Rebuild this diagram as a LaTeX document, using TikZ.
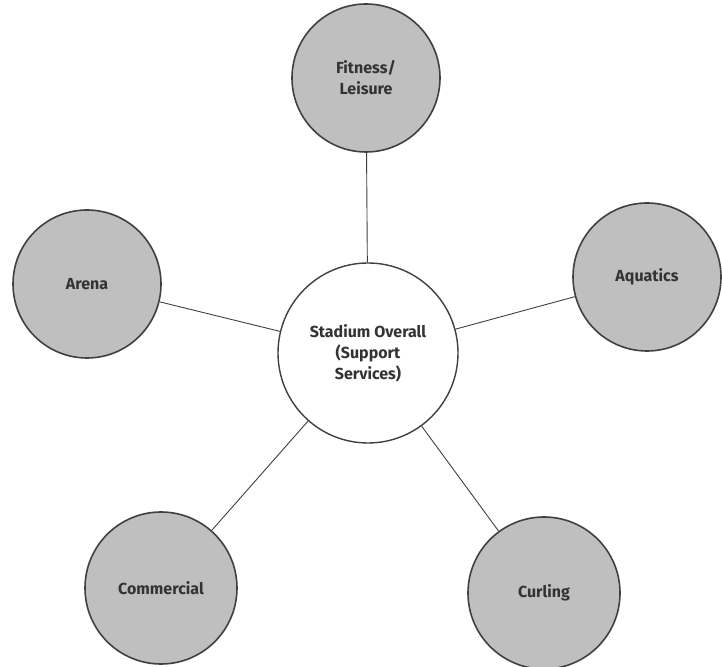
\documentclass[tikz,border=0pt]{standalone}
\usepackage{fontspec}
\setmainfont{Fira Sans}
\begin{document}
\begin{tikzpicture}[x=1pt,y=1pt,
  hub/.style={circle, draw=black!75, line width=1.4pt, fill=white, minimum size=180pt, inner sep=0pt, align=center, text=black!80, font=\fontsize{16}{21}\selectfont\bfseries},
  spoke/.style={circle, draw=black!75, line width=1.6pt, fill=black!25, minimum size=148pt, inner sep=0pt, align=center, text=black!80, font=\fontsize{16}{21}\selectfont\bfseries},
  link/.style={draw=black!75, line width=0.9pt}]
\useasboundingbox (0,0) rectangle (722,666);
\node[hub] (c) at (368,313) {Stadium Overall\\(Support\\Services)};
\node[spoke] (fit) at (366,588) {Fitness/\\Leisure};
\node[spoke] (are) at (87,382) {Arena};
\node[spoke] (aqu) at (647,389) {Aquatics};
\node[spoke, minimum size=152pt] (com) at (161,78) {Commercial};
\node[spoke, minimum size=152pt] (cur) at (544,73) {Curling};
\draw[link] (c) -- (fit);
\draw[link] (c) -- (are);
\draw[link] (c) -- (aqu);
\draw[link] (c) -- (com);
\draw[link] (c) -- (cur);
\end{tikzpicture}
\end{document}
